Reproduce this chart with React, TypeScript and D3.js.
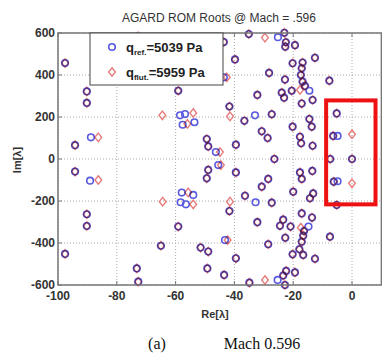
import * as d3 from "d3";

// roots seen at both dynamic pressures (blue circle + red diamond on top of each other)
const commonRoots: [number, number][] = [
  [-97.6, 457], [-97.6, -452], [-90.2, 322], [-90.2, 267], [-90.2, -263], [-90.2, -319],
  [-94.2, 66], [-94.2, -60], [-65, 413], [-65, -413], [-73.2, 521], [-73.2, -521],
  [-72.7, 584], [-72.7, -584], [-59.1, 325], [-59.1, -322], [-51.5, 422], [-51.5, -422],
  [-48.9, 441], [-48.9, -441], [-49.2, 521], [-49.2, -521],
  [-49.4, 95], [-49.4, -92], [-48.9, 60], [-48.9, -52], [-39.5, 68], [-39.5, -64],
  [-43.6, 557], [-43.5, -552], [-39.8, 474], [-39.5, -473], [-41.7, 250], [-41.7, -248],
  [-36.6, 182], [-36.4, -175], [-35.1, 595], [-34.9, -589], [-32.2, 305], [-32.2, -301],
  [-30.7, 132], [-30.7, -132], [-28.7, 100], [-28.5, -95], [-28.2, 410], [-28.5, -406],
  [-27.3, 213], [-27.3, -208], [-26.4, 0], [-23, 601], [-22.8, -600], [-22.5, 556], [-23.4, -555],
  [-22.7, 535], [-22.4, -533], [-19.4, 542], [-19.4, -540], [-22.8, 378], [-22.7, -375],
  [-23.9, 316], [-24.5, -318], [-23.1, 292], [-23.4, -289], [-20.5, 325], [-20.9, -322],
  [-20.2, 456], [-20.2, -454], [-20.2, 154], [-20, -156], [-17.1, 432], [-17.9, -430],
  [-17.4, 400], [-17.1, -394], [-16.8, 459], [-16.6, -457], [-16.8, 368], [-16.6, -365],
  [-16, 348], [-16.3, -343], [-17.1, 264], [-17.1, -259], [-17.7, 106], [-17.1, -95],
  [-17.3, 75], [-17.7, -64], [-13.4, 63], [-13.5, -57], [-14.5, 190], [-14.3, -187],
  [-13.7, 154], [-13.2, -164], [-13.4, 281], [-13.6, -279], [-12.6, 482], [-12.6, -475],
  [-7.7, 373], [-7.5, -370], [-5.2, 217], [-5.2, -219], [-6.4, 110], [-6.2, -108],
  [-7.4, 0], [0, 0],
];

// roots only where the q_ref markers sit apart from the q_flut ones
const refOnlyRoots: [number, number][] = [
  [-88.8, 103], [-89.1, -103], [-46.3, 33], [-45.5, -29], [-43.6, 389], [-43.2, -386],
  [-58.5, 208], [-56.8, 214], [-57.6, 163], [-53.6, 175], [-33, 208],
  [-58.3, -206], [-56.5, -216], [-57.9, -160], [-54, -171], [-32.8, -206],
  [-25.2, 580], [-25.3, -576], [-14.5, 325], [-14.8, -322], [-4.9, 110], [-4.9, -106],
];

const flutOnlyRoots: [number, number][] = [
  [-86.3, 103], [-86.3, -100], [-44.9, 33], [-44.6, -29], [-42.6, 389], [-42.3, -386],
  [-54, 219], [-56, 167], [-64.5, 208], [-41.5, 203],
  [-54, -216], [-55.7, -159], [-64.4, -203], [-41.5, -203],
  [-29.6, 578], [-29.6, -576], [-17.7, 329], [-17.4, -327], [0, 118], [0, -116],
];

const xTicks = [-100, -80, -60, -40, -20, 0];
const yTicks = [-600, -400, -200, 0, 200, 400, 600];
const highlight = { re: [-8.8, 8.0], im: [-216, 279] };

const refRoots = [...commonRoots, ...refOnlyRoots];
const flutRoots = [...commonRoots, ...flutOnlyRoots];

const W = 382;
const H = 354;
const x = d3.scaleLinear().domain([-100, 10]).range([58, 381.4]);
const y = d3.scaleLinear().domain([-600, 600]).range([285, 33]);

const blue = "#5a5ae0";
const red = "#e87a7a";
const font = "'Liberation Sans', Arial, sans-serif";

export default function App() {
  const [x0, x1] = x.range();
  const [y0, y1] = y.range();
  const diamond = (cx: number, cy: number, r: number) =>
    `M${cx},${cy - r}L${cx + r * 0.8},${cy}L${cx},${cy + r}L${cx - r * 0.8},${cy}Z`;

  return (
    <svg width={W} height={H} style={{ position: "absolute", left: 0, top: 0, background: "#fff" }}>
      <text x={219} y={22} textAnchor="middle" fontFamily={font} fontSize={12} fill="#333">
        AGARD ROM Roots @ Mach = .596
      </text>

      {/* grid */}
      {xTicks.map((t) => (
        <line key={"gx" + t} x1={x(t)} x2={x(t)} y1={y1} y2={y0} stroke="#aaa" strokeDasharray="1,2" />
      ))}
      {yTicks.map((t) => (
        <line key={"gy" + t} x1={x0} x2={x1} y1={y(t)} y2={y(t)} stroke="#aaa" strokeDasharray="1,2" />
      ))}

      {/* markers, multiplied so coincident ones turn purple */}
      <g style={{ isolation: "isolate" }}>
        {refRoots.map(([re, im], i) => (
          <circle key={"r" + i} cx={x(re)} cy={y(im)} r={3.3} fill="none" stroke={blue} strokeWidth={1.6} />
        ))}
        {flutRoots.map(([re, im], i) => (
          <path key={"f" + i} d={diamond(x(re), y(im), 4.2)} fill="none" stroke={red} strokeWidth={1.4}
            style={{ mixBlendMode: "multiply" }} />
        ))}
      </g>

      {/* frame and ticks */}
      <rect x={x0} y={y1} width={x1 - x0} height={y0 - y1} fill="none" stroke="#777" strokeWidth={1.5} />
      {xTicks.map((t) => (
        <g key={"tx" + t}>
          <line x1={x(t)} x2={x(t)} y1={y0} y2={y0 - 4} stroke="#777" />
          <line x1={x(t)} x2={x(t)} y1={y1} y2={y1 + 4} stroke="#777" />
          <text x={x(t)} y={300} textAnchor="middle" fontFamily={font} fontWeight="bold" fontSize={12} fill="#333">
            {t}
          </text>
        </g>
      ))}
      {yTicks.map((t) => (
        <g key={"ty" + t}>
          <line x1={x0} x2={x0 + 4} y1={y(t)} y2={y(t)} stroke="#777" />
          <text x={55} y={y(t) + 4} textAnchor="end" fontFamily={font} fontWeight="bold" fontSize={12} fill="#333">
            {t}
          </text>
        </g>
      ))}

      <text x={215} y={318} textAnchor="middle" fontFamily={font} fontWeight="bold" fontSize={11} fill="#333">
        Re[λ]
      </text>
      <text transform="translate(21,160) rotate(-90)" textAnchor="middle" fontFamily={font} fontWeight="bold" fontSize={11} fill="#333">
        Im[λ]
      </text>

      {/* legend */}
      <rect x={90} y={y1} width={133} height={52} fill="#fff" stroke="#444" strokeWidth={1} />
      <circle cx={112} cy={47} r={3.3} fill="none" stroke={blue} strokeWidth={1.6} />
      <path d={diamond(112, 72, 4.2)} fill="none" stroke={red} strokeWidth={1.4} />
      <text x={126} y={52} fontFamily={font} fontWeight="bold" fontSize={13} fill="#222">
        q<tspan fontSize={8} dy={3}>ref.</tspan>
        <tspan dy={-3}>=5039 Pa</tspan>
      </text>
      <text x={126} y={77} fontFamily={font} fontWeight="bold" fontSize={13} fill="#222">
        q<tspan fontSize={8} dy={3}>flut.</tspan>
        <tspan dy={-3}>=5959 Pa</tspan>
      </text>

      {/* highlighted region */}
      <rect
        x={x(highlight.re[0])}
        y={y(highlight.im[1])}
        width={x(highlight.re[1]) - x(highlight.re[0])}
        height={y(highlight.im[0]) - y(highlight.im[1])}
        fill="none"
        stroke="#ee1111"
        strokeWidth={4}
      />

      <text x={157} y={349} textAnchor="middle" fontFamily="'Liberation Serif', 'Times New Roman', serif" fontSize={16} fill="#111">
        (a)
      </text>
      <text x={262} y={349} textAnchor="middle" fontFamily="'Liberation Serif', 'Times New Roman', serif" fontSize={16} fill="#111">
        Mach 0.596
      </text>
    </svg>
  );
}
